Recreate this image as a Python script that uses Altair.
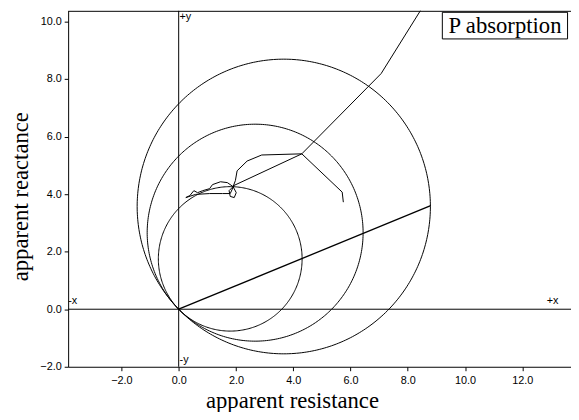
import altair as alt
import numpy as np
import pandas as pd

# ---- axes ----
x_ticks = [-2, 0, 2, 4, 6, 8, 10, 12]
y_ticks = [-2, 0, 2, 4, 6, 8, 10]
x_domain = [-3.86, 13.70]
y_domain = [-2.0, 10.37]

# ---- circles through the origin (centre x, centre y, radius) ----
circle_cx = [1.80, 2.67, 3.67]
circle_cy = [1.75, 2.66, 3.57]
circle_r = [2.51, 3.77, 5.12]

# ---- straight line from origin ----
ray_x = [0.0, 8.80]
ray_y = [0.0, 3.60]

# ---- apparent impedance trajectory ----
traj_x = [5.75, 5.71, 4.30, 2.90, 2.39, 2.04, 1.98, 1.90, 1.76, 1.80, 1.94, 2.01,
          1.90, 1.70, 1.46, 1.18, 1.08, 0.84, 0.66, 0.53, 0.39, 0.25, 0.59, 1.08,
          1.53, 1.80, 1.93, 4.30, 7.07, 8.55]
traj_y = [3.72, 4.07, 5.40, 5.36, 5.15, 4.81, 4.47, 4.26, 4.12, 3.92, 3.88, 4.05,
          4.26, 4.40, 4.43, 4.33, 4.19, 4.12, 4.05, 4.12, 3.95, 3.88, 3.99, 4.02,
          4.02, 4.02, 4.30, 5.40, 8.19, 10.55]

# ---- quadrant labels ----
quad_text = ["+y", "-y", "-x", "+x"]
quad_x = [0.03, 0.03, -3.86, 12.85]
quad_y = [10.16, -1.76, 0.27, 0.27]

legend_label = ["P absorption"]

# ---- build tables ----
theta = np.linspace(0, 2 * np.pi, 361)
rows = []
for i, (cx, cy, r) in enumerate(zip(circle_cx, circle_cy, circle_r)):
    for k, t in enumerate(theta):
        rows.append({"id": i, "k": k, "x": cx + r * np.cos(t), "y": cy + r * np.sin(t)})
circles = pd.DataFrame(rows)
ray = pd.DataFrame({"x": ray_x, "y": ray_y, "k": range(len(ray_x))})
traj = pd.DataFrame({"x": traj_x, "y": traj_y, "k": range(len(traj_x))})
quads = pd.DataFrame({"t": quad_text, "x": quad_x, "y": quad_y})
one = pd.DataFrame({"label": legend_label})

xs = alt.Scale(domain=x_domain, nice=False, zero=False)
ys = alt.Scale(domain=y_domain, nice=False, zero=False)

X = alt.X("x:Q", scale=xs, axis=alt.Axis(
    values=x_ticks, format=".1f", title="apparent resistance",
    titleFont="Liberation Serif", titleFontSize=23, titleFontWeight="normal",
    titleColor="black", titleX=227, titleY=34, titleBaseline="middle",
    titleAlign="center",
    labelFont="Liberation Sans", labelFontSize=11, labelColor="black",
    labelPadding=4, labelFlush=False, labelOverlap=False,
    tickSize=4, tickColor="black", domainColor="black", grid=False))
Y = alt.Y("y:Q", scale=ys, axis=alt.Axis(
    values=y_ticks, format=".1f", title="apparent reactance",
    titleFont="Liberation Serif", titleFontSize=23, titleFontWeight="normal",
    titleColor="black", titleX=-48, titleY=188, titleAngle=-90,
    titleBaseline="middle", titleAlign="center",
    labelFont="Liberation Sans", labelFontSize=11, labelColor="black",
    labelPadding=3, labelFlush=False, labelOverlap=False,
    tickSize=4, tickColor="black", domainColor="black", grid=False))

base_circles = alt.Chart(circles).mark_line(color="black", strokeWidth=1, clip=True).encode(
    x=X, y=Y, detail="id:N", order="k:Q")

vline = alt.Chart(one).mark_rule(color="black", strokeWidth=1).encode(x=alt.datum(0, scale=xs))
hline = alt.Chart(one).mark_rule(color="black", strokeWidth=1).encode(y=alt.datum(0, scale=ys))

ray_line = alt.Chart(ray).mark_line(color="black", strokeWidth=1.35, clip=True).encode(
    x=alt.X("x:Q", scale=xs), y=alt.Y("y:Q", scale=ys), order="k:Q")

traj_line = alt.Chart(traj).mark_line(color="black", strokeWidth=1, clip=True).encode(
    x=alt.X("x:Q", scale=xs), y=alt.Y("y:Q", scale=ys), order="k:Q")

quad_labels = alt.Chart(quads).mark_text(
    align="left", baseline="middle", font="Liberation Sans", fontSize=11, color="black"
).encode(x=alt.X("x:Q", scale=xs), y=alt.Y("y:Q", scale=ys), text="t:N")

top_frame = alt.Chart(one).mark_rule(color="black", strokeWidth=1).encode(
    x=alt.value(0), x2=alt.value(510), y=alt.value(0.5))

legend_box = alt.Chart(one).mark_rect(fill="white", stroke="black", strokeWidth=1).encode(
    x=alt.value(379.5), x2=alt.value(506.5), y=alt.value(1.5), y2=alt.value(28.5))
legend_text = alt.Chart(one).mark_text(
    font="Liberation Serif", fontSize=23, color="black", align="center", baseline="middle"
).encode(x=alt.value(443), y=alt.value(15.5), text="label:N")

chart = alt.layer(
    base_circles, vline, hline, ray_line, traj_line, quad_labels,
    top_frame, legend_box, legend_text
).properties(
    width=510, height=361,
    padding={"left": 61, "top": 0, "right": 0, "bottom": 43},
    autosize=alt.AutoSizeParams(type="none"),
    background="white",
).configure_view(strokeWidth=0)

chart.save("out.html", embed_options={"renderer": "svg", "actions": False})
